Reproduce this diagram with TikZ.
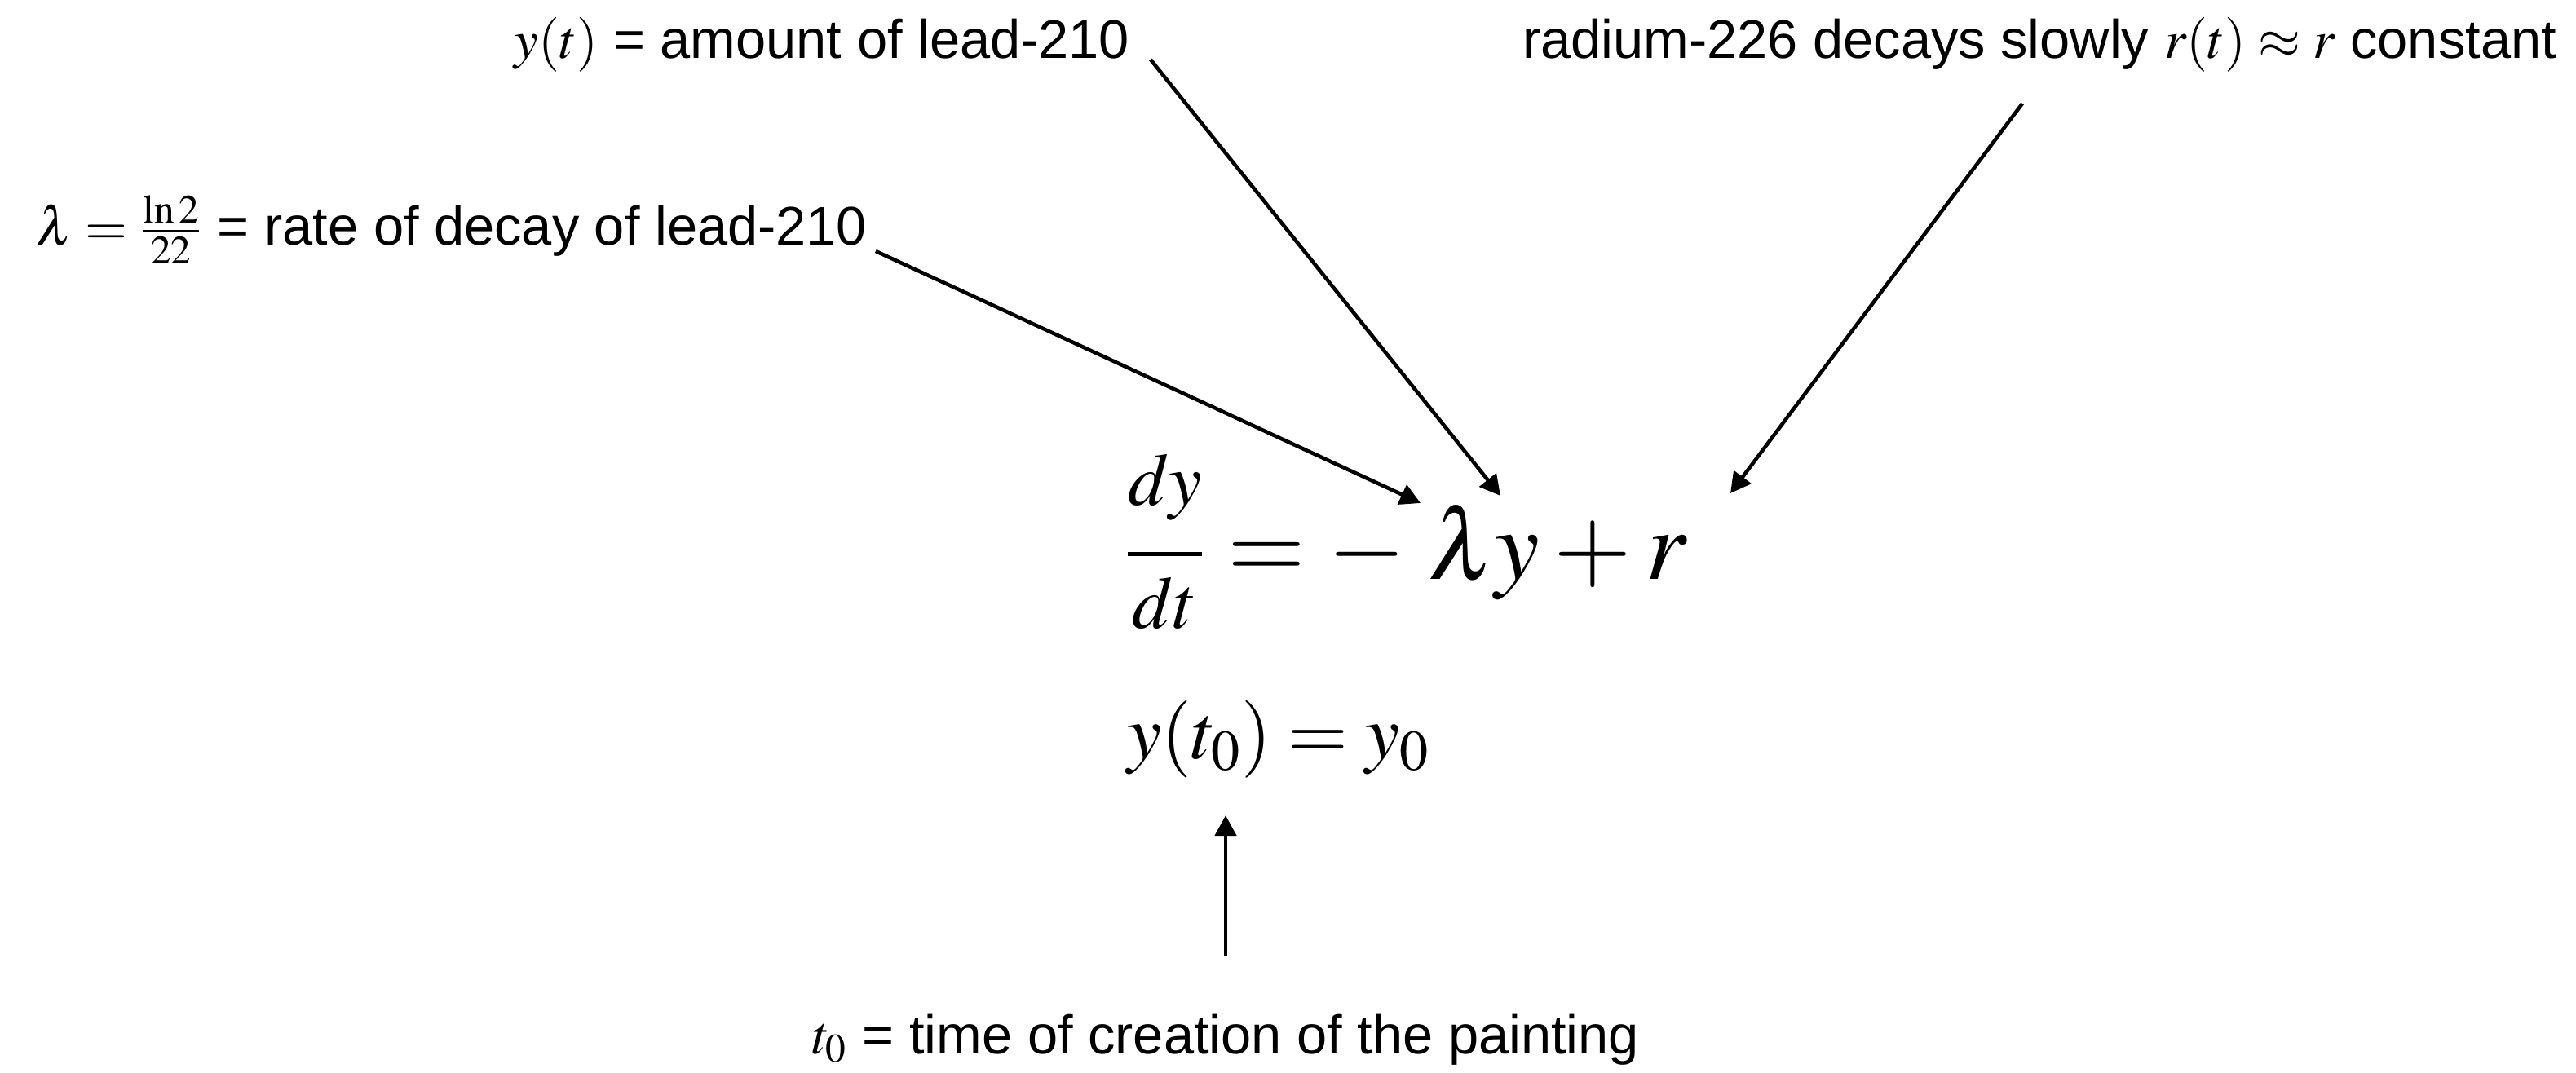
\documentclass[tikz,border=0pt]{standalone}
\usepackage{amsmath}
\usepackage{mathptmx}
\usepackage[no-math]{fontspec}
\setmainfont{Liberation Sans}
\usetikzlibrary{positioning,arrows.meta,calc}

\begin{document}
\begin{tikzpicture}[x=1cm,y=1cm,
  lbl/.style={inner sep=0pt,font=\fontsize{19}{23}\selectfont},
  ptr/.style={-{Triangle[length=0.25cm,width=0.26cm]},line width=1.3pt}]
  \useasboundingbox (0,0) rectangle (31.59,13.15);
  % model and initial condition
  \node[inner sep=0pt,font=\fontsize{35}{42}\selectfont,anchor=base] (ode) at (17.24,6.05)
    {$\frac{dy\rule[-15pt]{0pt}{0pt}}{\rule{0pt}{24pt}dt} = -\;\lambda y + r$};
  \node[inner sep=0pt,font=\fontsize{27}{32}\selectfont,anchor=base] (init) at (15.68,3.85)
    {$y(t_0) = y_0$};
  % what each symbol means
  \node[lbl,anchor=base] (amount) at (10.08,12.44) {$y(t)$ = amount of lead-210};
  \node[lbl,anchor=base] (rate) at (5.54,10.15) {$\lambda = \frac{\ln 2}{22}$ = rate of decay of lead-210};
  \node[lbl,anchor=base] (radium) at (25.01,12.44) {radium-226 decays slowly $r(t) \approx r$ constant};
  \node[lbl,anchor=base] (tzero) at (15.03,0.23) {$t_0$ = time of creation of the painting};
  % where the arrows land
  \coordinate (atminus) at (17.42,6.98);
  \coordinate (atlambda) at (18.40,7.07);
  \coordinate (atr) at (21.22,7.10);
  \coordinate (att0) at (15.03,3.15);
  \draw[ptr] ($(rate.base east)+(0.1,-0.08)$) -- (atminus);
  \draw[ptr] ($(amount.base east)+(0.25,-0.02)$) -- (atlambda);
  \draw[ptr] ($(radium.base)+(-0.21,-0.56)$) -- (atr);
  \draw[ptr] ($(tzero.base)+(0,1.2)$) -- (att0);
\end{tikzpicture}
\end{document}
